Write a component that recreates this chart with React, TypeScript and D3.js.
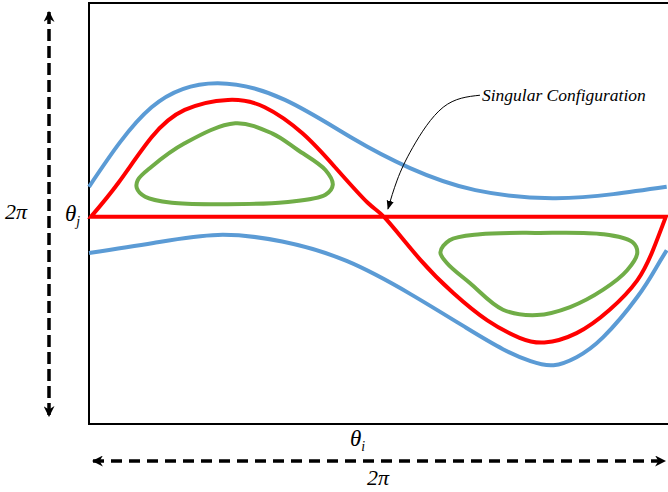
import React, { useEffect, useRef } from 'react';
import * as d3 from 'd3';

// angles in radians: x = theta_i in [0, 2pi], y = theta_j offset (red line at 0)
const blueUpper: [number, number][] = [
  [0, 0.45], [0.68, 1.64], [1.4, 2.0], [2.13, 1.75], [2.86, 1.18], [3.49, 0.73],
  [4.2, 0.4], [5.04, 0.28], [5.7, 0.34], [6.28, 0.45],
];
const blueLower: [number, number][] = [
  [0, -0.54], [0.7, -0.39], [1.4, -0.27], [2.1, -0.37], [2.8, -0.66], [3.5, -1.16],
  [4.1, -1.66], [4.5, -1.98], [4.8, -2.16], [5.05, -2.22], [5.3, -2.1], [5.59, -1.8],
  [5.96, -1.2], [6.17, -0.75], [6.28, -0.5],
];
const separatrix: [number, number][] = [
  [0.02, 0], [0.32, 0.51], [0.68, 1.19], [1.04, 1.6], [1.51, 1.75], [1.91, 1.64],
  [2.32, 1.25], [2.67, 0.75], [3.03, 0.21], [3.22, -0.02], [3.6, -0.64], [3.96, -1.14],
  [4.33, -1.55], [4.68, -1.81], [4.95, -1.88], [5.3, -1.74], [5.66, -1.39], [5.96, -0.95],
  [6.13, -0.5], [6.27, 0],
];
const greenUpper: [number, number][] = [
  [1.59, 1.4], [1.99, 1.25], [2.27, 1.0], [2.57, 0.7], [2.65, 0.48], [2.57, 0.33],
  [2.13, 0.22], [1.48, 0.19], [0.9, 0.21], [0.61, 0.3], [0.52, 0.43], [0.53, 0.55],
  [0.68, 0.75], [1.04, 1.1],
];
const greenLower: [number, number][] = [
  [4.25, -0.26], [4.87, -0.24], [5.59, -0.26], [5.91, -0.38], [5.96, -0.54], [5.85, -0.8],
  [5.59, -1.09], [5.23, -1.35], [4.87, -1.47], [4.5, -1.39], [4.14, -0.99], [3.89, -0.69],
  [3.82, -0.53], [3.92, -0.35],
];
const pointer: [number, number][] = [
  [4.25, 1.82], [3.85, 1.64], [3.52, 1.04], [3.35, 0.55], [3.25, 0.12],
];
const noteLabel = 'Singular Configuration';

export default function App() {
  const svgRef = useRef<SVGSVGElement>(null);

  useEffect(() => {
    const svg = d3.select(svgRef.current);
    svg.selectAll('*').remove();

    const x = d3.scaleLinear().domain([0, 2 * Math.PI]).range([89, 667]);
    const y = d3.scaleLinear().domain([-3.1, 3.2]).range([424, 3]);

    const defs = svg.append('defs');
    defs.append('marker')
      .attr('id', 'head')
      .attr('viewBox', '0 0 10 10')
      .attr('refX', 9).attr('refY', 5)
      .attr('markerWidth', 11).attr('markerHeight', 11)
      .attr('markerUnits', 'userSpaceOnUse')
      .attr('orient', 'auto-start-reverse')
      .append('path').attr('d', 'M0,0 L10,5 L0,10 L3,5 Z').attr('fill', '#000');
    defs.append('marker')
      .attr('id', 'small')
      .attr('viewBox', '0 0 10 10')
      .attr('refX', 9).attr('refY', 5)
      .attr('markerWidth', 9).attr('markerHeight', 9)
      .attr('markerUnits', 'userSpaceOnUse')
      .attr('orient', 'auto')
      .append('path').attr('d', 'M0,1 L10,5 L0,9 Z').attr('fill', '#000');

    // frame
    svg.append('rect')
      .attr('x', x(0)).attr('y', y(3.2))
      .attr('width', x(2 * Math.PI) - x(0) + 4).attr('height', y(-3.1) - y(3.2))
      .attr('fill', 'none').attr('stroke', '#000').attr('stroke-width', 2);

    const smooth = d3.line<[number, number]>().x(d => x(d[0])).y(d => y(d[1])).curve(d3.curveNatural);
    const loop = d3.line<[number, number]>().x(d => x(d[0])).y(d => y(d[1])).curve(d3.curveCatmullRomClosed);

    const g = svg.append('g').attr('fill', 'none').attr('stroke-width', 4);
    g.append('path').attr('d', smooth(blueUpper)).attr('stroke', '#5b9bd5');
    g.append('path').attr('d', smooth(blueLower)).attr('stroke', '#5b9bd5');
    g.append('path').attr('d', loop(greenUpper)).attr('stroke', '#70ad47');
    g.append('path').attr('d', loop(greenLower)).attr('stroke', '#70ad47');
    const first = separatrix[0];
    g.append('path')
      .attr('d', smooth(separatrix) + `L${x(first[0])},${y(first[1])}Z`)
      .attr('stroke', '#ff0000')
      .attr('stroke-linejoin', 'miter');

    // annotation
    svg.append('path')
      .attr('d', smooth(pointer))
      .attr('fill', 'none').attr('stroke', '#000').attr('stroke-width', 1)
      .attr('marker-end', 'url(#small)');
    svg.append('text')
      .attr('x', x(pointer[0][0]) + 2).attr('y', y(pointer[0][1]) + 6)
      .attr('font-family', '"Liberation Serif", serif').attr('font-style', 'italic')
      .attr('font-size', 17.5).text(noteLabel);

    // dimension arrows
    svg.append('line')
      .attr('x1', 49).attr('x2', 49).attr('y1', y(3.2) + 9).attr('y2', y(-3.1) - 8)
      .attr('stroke', '#000').attr('stroke-width', 3.5).attr('stroke-dasharray', '12 5')
      .attr('marker-start', 'url(#head)').attr('marker-end', 'url(#head)');
    svg.append('line')
      .attr('x1', x(0) + 4).attr('x2', 665).attr('y1', 461).attr('y2', 461)
      .attr('stroke', '#000').attr('stroke-width', 3.5).attr('stroke-dasharray', '11 7')
      .attr('marker-start', 'url(#head)').attr('marker-end', 'url(#head)');

    const serif = '"Liberation Serif", "Times New Roman", serif';
    const label = (tx: number, ty: number, main: string, sub: string | null, size: number) => {
      const t = svg.append('text').attr('x', tx).attr('y', ty)
        .attr('font-family', serif).attr('font-style', 'italic').attr('font-size', size);
      t.append('tspan').text(main);
      if (sub) t.append('tspan').attr('font-size', size * 0.6).attr('dy', 5).text(sub);
    };
    label(5, 219, '2π', null, 22);
    label(65, 221, 'θ', 'j', 23);
    label(350, 446, 'θ', 'i', 23);
    label(367, 485, '2π', null, 22);
  }, []);

  return (
    <svg ref={svgRef} width={668} height={492}
      style={{ position: 'absolute', left: 0, top: 0, background: '#fff' }} />
  );
}
